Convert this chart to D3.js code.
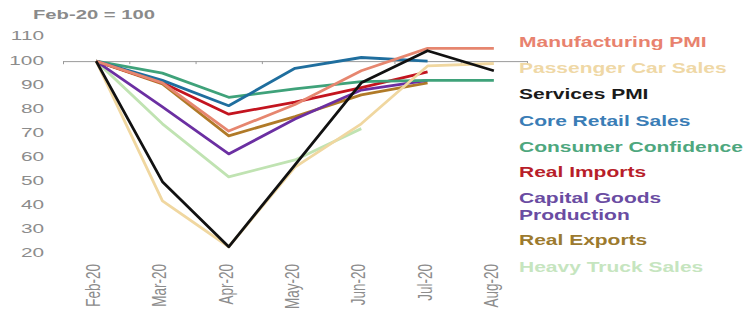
<!DOCTYPE html>
<html><head><meta charset="utf-8">
<script src="https://cdn.jsdelivr.net/npm/d3@7"></script>
<style>
html,body{margin:0;padding:0;background:#fff;}
svg{display:block;font-family:Arial,"Liberation Sans",sans-serif;}
</style></head>
<body><svg id="c" width="747" height="311"></svg>
<script>
const months = ["Feb-20","Mar-20","Apr-20","May-20","Jun-20","Jul-20","Aug-20"];
const yTicks = [20,30,40,50,60,70,80,90,100,110];
const unitLabel = "Feb-20 = 100";

const manufacturingPMI   = [100, 91, 71, 82, 96, 105.3, 105.3];
const passengerCarSales  = [100, 42, 23, 56, 74, 98, 99];
const servicesPMI        = [100, 50, 23, 57, 91, 104.3, 96];
const coreRetailSales    = [100, 92, 81.5, 97, 101.5, 100, null];
const consumerConfidence = [100, 95, 85, 88.5, 91.5, 92, 92];
const realImports        = [100, 91, 78, 83, 89, 95.5, null];
const capitalGoods       = [100, 81, 61.5, 76, 88, 92, null];
const realExports        = [100, 90.5, 69, 77, 86, 91, null];
const heavyTruckSales    = [100, 74, 52, 59, 72, null, null];

const seriesNames = ["Manufacturing PMI","Passenger Car Sales","Services PMI","Core Retail Sales","Consumer Confidence","Real Imports","Capital Goods\nProduction","Real Exports","Heavy Truck Sales"];
const seriesValues = [manufacturingPMI,passengerCarSales,servicesPMI,coreRetailSales,consumerConfidence,realImports,capitalGoods,realExports,heavyTruckSales];
const lineColors = ["#e6866f","#f0d7a0","#111111","#1f6e9e","#3fa27a","#c3141f","#6b2fa2","#b07a28","#c0e3b2"];
const textColors = ["#e8826e","#efd8a6","#1a1a1a","#3a7db6","#4ea77e","#b81e2a","#6a4ca2","#9c7a2e","#c6e5bf"];
const legendBase = [47,73,99,126,152,177,203,245,272];
const drawOrder = [8,7,6,5,4,3,1,0,2];

const svg = d3.select("#c");
const SX = 1.55;
const x = d3.scaleBand().domain(months).range([63,527]).padding(0);
const xc = m => x(m) + x.bandwidth()/2;
const y = d3.scaleLinear().domain([20,110]).range([254,37]);

// title
svg.append("text").attr("transform",`translate(33,19) scale(1.62,1)`)
  .attr("font-size",12.5).attr("font-weight","bold").attr("fill","#8a8a8a").text(unitLabel);

// y tick labels
svg.append("g").selectAll("text").data(yTicks).join("text")
  .attr("transform",d=>`translate(44,${y(d)}) scale(1.6,1)`)
  .attr("text-anchor","end").attr("dominant-baseline","middle")
  .attr("font-size",13).attr("fill","#8c8c8c").text(d=>d);

// axis at 100
const ax = svg.append("g").attr("transform",`translate(0,${y(100)})`)
  .call(d3.axisBottom(d3.scaleLinear().domain([0,months.length]).range([63,527]))
    .tickValues(d3.range(months.length+1)).tickSize(3).tickFormat(""));
ax.select(".domain").attr("stroke","#9a9a9a");
ax.selectAll(".tick line").attr("stroke","#9a9a9a");

// x labels
svg.append("g").selectAll("text").data(months).join("text")
  .attr("transform",d=>`translate(${xc(d)+4},264) scale(${SX},1) rotate(-90)`)
  .attr("text-anchor","end").attr("font-size",13.5).attr("fill","#8c8c8c").text(d=>d);

// lines
const line = d3.line().defined(d=>d.v!=null).x(d=>xc(d.m)).y(d=>y(d.v));
drawOrder.forEach(i=>{
  const data = months.map((m,j)=>({m,v:seriesValues[i][j]}));
  svg.append("path").datum(data).attr("d",line).attr("fill","none")
    .attr("stroke",lineColors[i]).attr("stroke-width",2.8)
    .attr("stroke-linejoin","round").attr("stroke-linecap","butt");
});

// legend labels
seriesNames.forEach((n,i)=>{
  const t = svg.append("text").attr("transform",`translate(519,${legendBase[i]}) scale(1.5,1)`)
    .attr("font-size",14).attr("font-weight","bold").attr("fill",textColors[i]);
  n.split("\n").forEach((p,k)=>t.append("tspan").attr("x",0).attr("dy",k?17:0).text(p));
});
</script></body></html>
